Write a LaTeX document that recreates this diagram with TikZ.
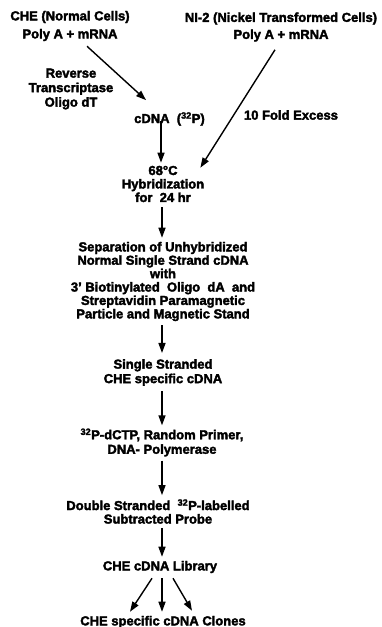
\documentclass[tikz,border=0pt]{standalone}
\usepackage{fontspec}
\setmainfont{Liberation Sans}[BoldFeatures={FakeBold=2.5}]
\usetikzlibrary{arrows.meta}
\tikzset{
  lbl/.style={inner sep=0pt, align=center, font=\bfseries\fontsize{13}{#1}\selectfont},
  lbl/.default=14,
  arr/.style={line width=1.4pt, -{Triangle[length=10pt,width=7pt]}}
}
\begin{document}
\begin{tikzpicture}[x=1pt,y=-1pt]
\useasboundingbox (0,0) rectangle (381,627);
\node[lbl=18] (che) at (70,26) {CHE (Normal~Cells)\\Poly A + mRNA};
\node[lbl=17] (ni) at (281,27) {NI-2 (Nickel Transformed Cells)\\Poly A + mRNA};
\node[lbl=14.5] (rt) at (71,89) {Reverse\\Transcriptase\\Oligo dT};
\node[lbl, anchor=west] (cdna) at (134,119) {cDNA~~(\textsuperscript{32}P)};
\node[lbl] (excess) at (291,115) {10 Fold Excess};
\node[lbl=13.5] (hyb) at (163,184) {68°C\\Hybridization\\for~~24 hr};
\node[lbl=13.4] (sep) at (163,281.5) {Separation of Unhybridized\\Normal Single Strand cDNA\\with\\3' Biotinylated~~Oligo~~dA~~and\\Streptavidin Paramagnetic\\Particle and Magnetic Stand};
\node[lbl=14.5] (ss) at (163,372.5) {Single Stranded\\CHE specific cDNA};
\node[lbl=14.5] (dctp) at (162,442.5) {\textsuperscript{32}P-dCTP, Random Primer,\\DNA- Polymerase};
\node[lbl=13.5] (ds) at (158,511.5) {Double Stranded~~\textsuperscript{32}P-labelled\\Subtracted Probe};
\node[lbl] (lib) at (160,567) {CHE cDNA Library};
\node[lbl] (clones) at (163,622) {CHE specific cDNA Clones};

\draw[arr] ([shift={(17,5)}]che.south) -- ([shift={(12,-12)}]cdna.north west);
\draw[arr] ([shift={(-6,8)}]ni.south) -- ([shift={(-4,2)}]hyb.north east);
\draw[arr] ([yshift=5]cdna.south west -| hyb.north) ++(-2,0) -- ([shift={(-2,-3)}]hyb.north);
\draw[arr] ([shift={(-1,5)}]hyb.south) -- ([shift={(-1,-4)}]sep.north);
\draw[arr] ([shift={(-1,4)}]sep.south) -- ([shift={(-1,-6)}]ss.north);
\draw[arr] ([shift={(-1,5)}]ss.south) -- ([shift={(0,-3)}]dctp.north);
\draw[arr] ([shift={(0,4)}]dctp.south) -- ([shift={(4,-4)}]ds.north);
\draw[arr] ([shift={(4,4)}]ds.south) -- ([shift={(2,-4)}]lib.north);
\draw[arr] ([shift={(-8,5)}]lib.south) -- ([shift={(-33,-4)}]clones.north);
\draw[arr] ([shift={(2,5)}]lib.south) -- ([shift={(-1,-4)}]clones.north);
\draw[arr] ([shift={(13,5)}]lib.south) -- ([shift={(29,-5)}]clones.north);
\end{tikzpicture}
\end{document}
